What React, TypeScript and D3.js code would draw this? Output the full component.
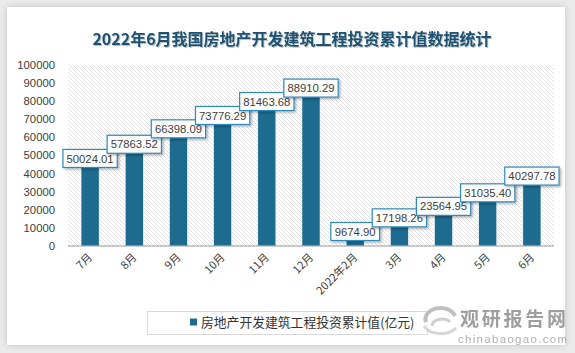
import * as d3 from "d3";

const categories = ["7月", "8月", "9月", "10月", "11月", "12月", "2022年2月", "3月", "4月", "5月", "6月"];
const values = [50024.01, 57863.52, 66398.09, 73776.29, 81463.68, 88910.29, 9674.9, 17198.26, 23564.95, 31035.4, 40297.78];
const yTicks = [0, 10000, 20000, 30000, 40000, 50000, 60000, 70000, 80000, 90000, 100000];
const title = "2022年6月我国房地产开发建筑工程投资累计值数据统计";
const seriesName = "房地产开发建筑工程投资累计值(亿元)";

const W = 575;
const H = 353;
const margin = { top: 65, right: 21, bottom: 107, left: 68 };
const barColor = "#1d6b8e";
const labelBorder = "#2f89bf";
const textColor = "#404040";
const cjk = "'Noto Sans CJK SC', 'Microsoft YaHei', sans-serif";
const num = "'Liberation Sans', Arial, sans-serif";

export default function App() {
  const x = d3
    .scaleBand<string>()
    .domain(categories)
    .range([margin.left, W - margin.right])
    .paddingInner(0.59)
    .paddingOuter(0.295);
  const y = d3.scaleLinear().domain([0, 100000]).range([H - margin.bottom, margin.top]);
  const center = (c: string) => (x(c) ?? 0) + x.bandwidth() / 2;

  return (
    <div style={{ position: "absolute", left: 0, top: 0 }}>
      <svg width={W} height={H} style={{ display: "block" }}>
        <defs>
          <pattern id="hatch" width={4} height={4} patternUnits="userSpaceOnUse">
            <rect width={4} height={4} fill="#ffffff" />
            <path d="M-1,-1 L5,5 M-1,3 L1,5 M3,-1 L5,1" stroke="#dadada" strokeWidth={0.8} />
          </pattern>
          <filter id="cardShadow" x="-5%" y="-5%" width="110%" height="110%">
            <feDropShadow dx={0} dy={0} stdDeviation={3} floodColor="#000" floodOpacity={0.18} />
          </filter>
          <filter id="boxShadow" x="-20%" y="-30%" width="140%" height="160%">
            <feDropShadow dx={1.5} dy={1.5} stdDeviation={1} floodColor="#000" floodOpacity={0.3} />
          </filter>
          <filter id="titleShadow" x="-5%" y="-30%" width="110%" height="160%">
            <feDropShadow dx={1} dy={1} stdDeviation={0.6} floodColor="#000" floodOpacity={0.25} />
          </filter>
        </defs>

        {/* 背景とカード */}
        <rect width={W} height={H} fill="#ebebeb" />
        <rect x={7} y={7} width={558} height={338} fill="#ffffff" filter="url(#cardShadow)" />

        <text
          x={292}
          y={45}
          textAnchor="middle"
          fontFamily={cjk}
          fontWeight="bold"
          fontSize={16}
          fill="#1e5373"
          filter="url(#titleShadow)"
        >
          {title}
        </text>

        {/* プロット領域のハッチング */}
        <rect
          x={margin.left}
          y={margin.top}
          width={W - margin.left - margin.right}
          height={H - margin.top - margin.bottom}
          fill="url(#hatch)"
        />

        {/* Y軸 */}
        {yTicks.map((t) => (
          <text
            key={t}
            x={55}
            y={y(t)}
            dy="0.35em"
            textAnchor="end"
            fontFamily={num}
            fontSize={11.3}
            fill={textColor}
          >
            {t}
          </text>
        ))}

        {/* 棒 */}
        {categories.map((c, i) => (
          <rect
            key={c}
            x={x(c)}
            y={y(values[i])}
            width={x.bandwidth()}
            height={y(0) - y(values[i])}
            fill={barColor}
            stroke="#ffffff"
            strokeWidth={0.6}
          />
        ))}

        <line
          x1={margin.left}
          x2={W - margin.right}
          y1={y(0)}
          y2={y(0)}
          stroke="#9a9a9a"
          strokeWidth={1.2}
        />

        {/* X軸ラベル */}
        {categories.map((c) => (
          <text
            key={c}
            transform={`translate(${center(c) + 3},${y(0) + 12}) rotate(-45)`}
            textAnchor="end"
            fontFamily={cjk}
            fontSize={11}
            fill={textColor}
          >
            {c}
          </text>
        ))}

        {/* データラベル */}
        {categories.map((c, i) => {
          const label = values[i].toFixed(2);
          const bw = label.length * 5.6 + 9.5;
          const cx = center(c);
          const cy = y(values[i]) + 3;
          return (
            <g key={c}>
              <rect
                x={cx - bw / 2}
                y={cy - 9}
                width={bw}
                height={18}
                fill="#ffffff"
                stroke={labelBorder}
                strokeWidth={1.2}
                filter="url(#boxShadow)"
              />
              <text
                x={cx}
                y={cy}
                dy="0.36em"
                textAnchor="middle"
                fontFamily={num}
                fontSize={11.3}
                fill={textColor}
              >
                {label}
              </text>
            </g>
          );
        })}

        {/* 凡例 */}
        <rect x={147.5} y={311.5} width={280} height={23} fill="#ffffff" stroke="#d9d9d9" />
        <rect x={190} y={318.5} width={7} height={7} fill={barColor} />
        <text x={201} y={322} dy="0.36em" fontFamily={cjk} fontSize={12.8} fill="#333333">
          {seriesName}
        </text>

        {/* ウォーターマーク */}
        <g opacity={0.85}>
          <ellipse cx={440} cy={320} rx={18} ry={12} fill="#ffffff" opacity={0.8} />
          <path d="M426,322 A15,11 0 0 1 455,316" fill="none" stroke="#b5b5b5" strokeWidth={4} />
          <path d="M432,326 A10,7 0 0 1 450,322" fill="none" stroke="#c8c8c8" strokeWidth={3} />
          <path d="M424,326 A18,12 0 0 0 456,328" fill="none" stroke="#d0d0d0" strokeWidth={3} />
          <text x={460} y={326} fontFamily={cjk} fontWeight="bold" fontSize={19} fill="#8e8e8e" textLength={106}>
            观研报告网
          </text>
          <text x={458} y={343} fontFamily={num} fontSize={11.5} fill="#a3a3a3" textLength={109}>
            chinabaogao.com
          </text>
        </g>
      </svg>
    </div>
  );
}
